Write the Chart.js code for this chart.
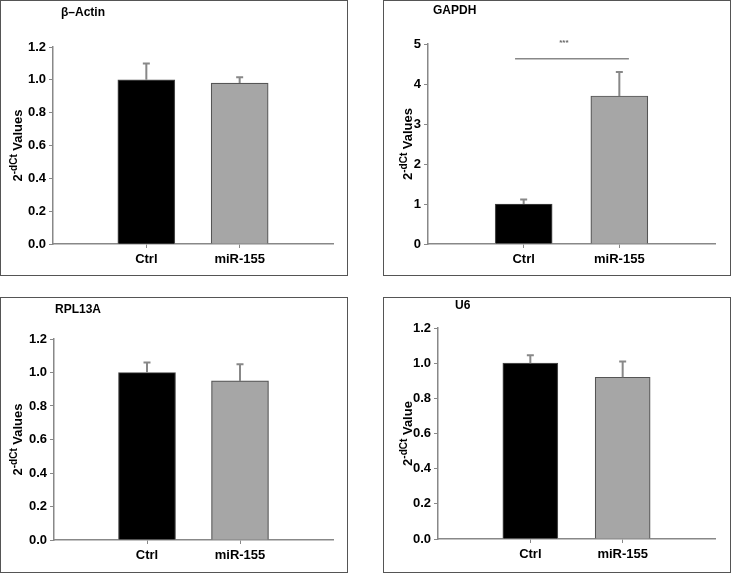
<!DOCTYPE html>
<html lang="en">
<head>
<meta charset="UTF-8">
<title>Reference genes</title>
<script src="https://cdn.jsdelivr.net/npm/chart.js"></script>
<style>
  body { margin: 0; background: #fff; }
  #page { position: relative; width: 731px; height: 573px; overflow: hidden; }
  .panel { position: absolute; width: 348px; height: 276px; }
  .panel canvas { position: absolute; left: 0; top: 0; }
  .frame { position: absolute; inset: 0; border: 1.5px solid #555; pointer-events: none; }
</style>
</head>
<body>
<div id="page">
  <div class="panel" style="left:0;top:0"><canvas id="c1"></canvas><div class="frame"></div></div>
  <div class="panel" style="left:383px;top:0"><canvas id="c2"></canvas><div class="frame"></div></div>
  <div class="panel" style="left:0;top:297px"><canvas id="c3"></canvas><div class="frame"></div></div>
  <div class="panel" style="left:383px;top:297px"><canvas id="c4"></canvas><div class="frame"></div></div>
</div>
<script>
const categories = ['Ctrl', 'miR-155'];

const actinMeans = [1.0, 0.98];
const actinErr = [0.10, 0.035];
const gapdhMeans = [1.0, 3.7];
const gapdhErr = [0.11, 0.6];
const rpl13aMeans = [1.0, 0.95];
const rpl13aErr = [0.06, 0.10];
const u6Means = [1.0, 0.92];
const u6Err = [0.045, 0.09];

const fracTicks = [0, 0.2, 0.4, 0.6, 0.8, 1.0, 1.2];
const gapdhTicks = [0, 1, 2, 3, 4, 5];

// significance bar in GAPDH panel: from x, to x, at y
const gapdhSig = { from: 0.91, to: 2.1, y: 4.63, label: '***' };

const FONT = '"Liberation Sans", Arial, sans-serif';
const barColors = ['#000000', '#a6a6a6'];
const barBorders = ['#444444', '#555555'];

// draws upward error bars, panel title, rotated y title with superscript, significance bar
const extras = {
  id: 'extras',
  afterDatasetsDraw(chart, args, o) {
    const ctx = chart.ctx;
    const xs = chart.scales.x, ys = chart.scales.y;
    const a = chart.chartArea;
    ctx.save();
    ctx.strokeStyle = '#888';
    ctx.lineWidth = 2;
    o.means.forEach((m, i) => {
      const px = xs.getPixelForValue(i + 1);
      const y0 = ys.getPixelForValue(m);
      const y1 = ys.getPixelForValue(m + o.err[i]);
      ctx.beginPath();
      ctx.moveTo(px, y0); ctx.lineTo(px, y1);
      ctx.moveTo(px - 3.5, y1); ctx.lineTo(px + 3.5, y1);
      ctx.stroke();
    });

    if (o.sig) {
      ctx.lineWidth = 1.5;
      const yy = ys.getPixelForValue(o.sig.y);
      ctx.beginPath();
      ctx.moveTo(xs.getPixelForValue(o.sig.from), yy);
      ctx.lineTo(xs.getPixelForValue(o.sig.to), yy);
      ctx.stroke();
      ctx.fillStyle = '#666';
      ctx.font = 'bold 8px ' + FONT;
      ctx.textAlign = 'center';
      ctx.textBaseline = 'middle';
      ctx.fillText(o.sig.label, xs.getPixelForValue(1.42), yy - 16);
    }

    ctx.fillStyle = '#000';
    ctx.textAlign = 'left';
    ctx.textBaseline = 'alphabetic';
    ctx.font = 'bold 12px ' + FONT;
    ctx.fillText(o.title, o.titleX, o.titleY);

    ctx.translate(o.axisX, (a.top + a.bottom) / 2);
    ctx.rotate(-Math.PI / 2);
    const big = 'bold 13px ' + FONT, small = 'bold 10px ' + FONT;
    ctx.font = big;
    const w1 = ctx.measureText('2').width;
    const w3 = ctx.measureText(' ' + o.word).width;
    ctx.font = small;
    const w2 = ctx.measureText('-dCt').width;
    let x = -(w1 + w2 + w3) / 2;
    ctx.font = big; ctx.fillText('2', x, 0); x += w1;
    ctx.font = small; ctx.fillText('-dCt', x, -5); x += w2;
    ctx.font = big; ctx.fillText(' ' + o.word, x, 0);
    ctx.restore();
  }
};

function makePanel(id, p) {
  const W = 348, H = 276, yW = 40, xH = 30;
  const el = document.getElementById(id);
  el.width = W; el.height = H;
  return new Chart(el, {
    type: 'bar',
    data: {
      datasets: [{
        data: p.means.map((v, i) => ({ x: i + 1, y: v })),
        backgroundColor: barColors,
        borderColor: barBorders,
        borderWidth: 1.2,
        barThickness: p.barW
      }]
    },
    options: {
      responsive: false,
      animation: false,
      layout: { padding: { left: p.area[0] - yW, top: p.area[1], right: W - p.area[2], bottom: H - p.area[3] - xH } },
      plugins: {
        legend: { display: false },
        tooltip: { enabled: false },
        extras: {
          means: p.means, err: p.err, sig: p.sig, title: p.title,
          titleX: p.titleX, titleY: p.titleY, axisX: p.axisX, word: p.word
        }
      },
      scales: {
        x: {
          type: 'linear', min: 0, max: 3, offset: false, bounds: 'ticks',
          afterBuildTicks: s => { s.ticks = categories.map((c, i) => ({ value: i + 1 })); },
          afterFit: s => { s.height = xH; },
          border: { color: '#888', width: 1.5 },
          grid: { offset: false, drawOnChartArea: false, color: '#888', tickLength: 4, lineWidth: 1 },
          ticks: {
            padding: 4, color: '#000', autoSkip: false, maxRotation: 0,
            font: { family: FONT, size: 13, weight: 'bold' },
            callback: v => categories[v - 1]
          }
        },
        y: {
          min: p.ticks[0], max: p.ticks[p.ticks.length - 1],
          afterBuildTicks: s => { s.ticks = p.ticks.map(v => ({ value: v })); },
          afterFit: s => { s.width = yW; },
          border: { color: '#888', width: 1.5 },
          grid: { drawOnChartArea: false, color: '#888', tickLength: 4, lineWidth: 1 },
          ticks: {
            padding: 3, color: '#000',
            font: { family: FONT, size: 13, weight: 'bold' },
            callback: v => p.dec ? Number(v).toFixed(1) : String(v)
          }
        }
      }
    },
    plugins: [extras]
  });
}

makePanel('c1', { means: actinMeans, err: actinErr, ticks: fracTicks, dec: true,
  area: [53, 47, 333, 244], barW: 57, title: 'β–Actin', titleX: 61, titleY: 16, axisX: 22, word: 'Values' });
makePanel('c2', { means: gapdhMeans, err: gapdhErr, ticks: gapdhTicks, dec: false, sig: gapdhSig,
  area: [45, 44, 332, 244], barW: 57, title: 'GAPDH', titleX: 50, titleY: 14, axisX: 29, word: 'Values' });
makePanel('c3', { means: rpl13aMeans, err: rpl13aErr, ticks: fracTicks, dec: true,
  area: [54, 42, 333, 243], barW: 57, title: 'RPL13A', titleX: 55, titleY: 16, axisX: 22, word: 'Values' });
makePanel('c4', { means: u6Means, err: u6Err, ticks: fracTicks, dec: true,
  area: [55, 31, 332, 242], barW: 55, title: 'U6', titleX: 72, titleY: 12, axisX: 29, word: 'Value' });
</script>
</body>
</html>
